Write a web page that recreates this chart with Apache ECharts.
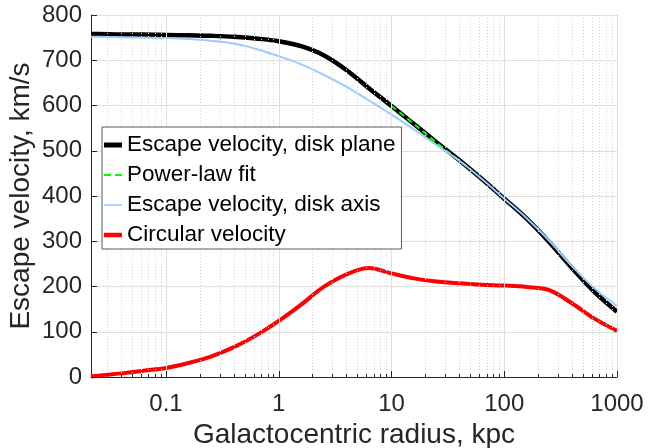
<!DOCTYPE html>
<html><head><meta charset="utf-8">
<script src="https://cdn.jsdelivr.net/npm/echarts@6/dist/echarts.min.js"></script>
<style>html,body{margin:0;padding:0;background:#fff}#c{width:659px;height:448px}</style>
</head><body><div id="c"></div>
<script>
// ---- data (radius in kpc, velocity in km/s) ----
const radiusEsc = [0.0216, 0.025, 0.04, 0.063, 0.1, 0.158, 0.25, 0.4, 0.63, 1, 1.58, 2.5, 4, 6.3, 10, 15.8, 25, 40, 63, 100, 158, 251, 398, 631, 1000];
const vEscPlane = [758, 758, 757, 757, 756, 755, 754, 752, 748, 742, 731, 711, 678, 638, 599, 559, 519, 479, 438, 394, 350, 298, 241, 188, 144];
const vEscAxis  = [752, 752, 751, 750, 749, 747, 743, 737, 725, 709, 691, 668, 641, 611, 580, 547, 513, 478, 438, 394, 351, 301, 245, 196, 157];
const radiusFit = [10, 14, 20, 28, 40, 48];
const vFit      = [599, 570, 538, 508, 478, 463];
const radiusCirc = [0.0216, 0.025, 0.04, 0.063, 0.1, 0.158, 0.25, 0.4, 0.63, 1, 1.58, 2.5, 4, 6.3, 10, 15.8, 25, 40, 63, 100, 158, 251, 398, 631, 1000];
const vCirc      = [1, 3, 8, 14, 20, 31, 45, 66, 92, 124, 160, 199, 227, 241, 229, 218, 211, 207, 204, 202, 199, 192, 163, 129, 102];
const seriesNames = ['Escape velocity, disk plane', 'Power-law fit', 'Escape velocity, disk axis', 'Circular velocity'];
const xMajorTicks = [0.1, 1, 10, 100, 1000];
const xMinorMultipliers = [2, 3, 4, 5, 6, 7, 8, 9];
const xMinorDecades = [0.01, 0.1, 1, 10, 100];
const xRange = [0.0216, 1000];
const yTicks = [0, 100, 200, 300, 400, 500, 600, 700, 800];
const xTitle = 'Galactocentric radius, kpc';
const yTitle = 'Escape velocity, km/s';

// ---- build ----
const lg = v => Math.round(Math.log10(v) * 1e9) / 1e9;
const xMin = lg(xRange[0]), xMax = lg(xRange[1]);
const majorPos = xMajorTicks.map(lg);
const minorPos = [];
xMinorDecades.forEach(d => xMinorMultipliers.forEach(m => {
  const p = lg(d * m);
  if (p >= xMin && p <= xMax) minorPos.push(p);
}));
const pairs = (rs, vs) => rs.map((r, i) => [lg(r), vs[i]]);
const FONT = '"Liberation Sans", Arial, Helvetica, sans-serif';
const AX = '#262626';

const legendIcons = [
  'path://M0,0h18v5h-18z',
  'path://M0,0h7v2h-7z M11,0h7v2h-7z',
  'path://M0,0h18v1.6h-18z',
  'path://M0,0h18v4.5h-18z'
];

const chart = echarts.init(document.getElementById('c'), null, {renderer: 'canvas'});
chart.setOption({
  animation: false,
  backgroundColor: '#ffffff',
  grid: {left: 91, right: 42, top: 15, bottom: 71, containLabel: false, outerBoundsMode: 'none'},
  xAxis: [
    {
      type: 'value', min: xMin, max: xMax, position: 'bottom',
      name: xTitle, nameLocation: 'middle', nameGap: 44, nameMoveOverlap: false,
      nameTextStyle: {fontFamily: FONT, fontSize: 28, color: AX},
      axisLine: {show: true, onZero: false, lineStyle: {color: AX, width: 1}},
      axisTick: {show: true, inside: true, length: 6, customValues: majorPos, lineStyle: {color: AX}},
      axisLabel: {show: true, customValues: majorPos, margin: 15, fontFamily: FONT, fontSize: 24, color: AX,
        formatter: v => String(+Math.pow(10, v).toPrecision(6))},
      splitLine: {show: true, lineStyle: {color: '#dfdfdf', width: 1}},
      z: 5
    },
    {
      type: 'value', min: xMin, max: xMax, position: 'bottom', offset: 0,
      axisLine: {show: false, onZero: false},
      axisTick: {show: true, inside: true, length: 3, customValues: minorPos, lineStyle: {color: AX}},
      axisLabel: {show: false},
      splitLine: {show: true, lineStyle: {color: '#d4d4d4', width: 1, type: [1, 2]}},
      z: 4
    }
  ],
  yAxis: {
    type: 'value', min: 0, max: 800, interval: 100, position: 'left',
    name: yTitle, nameLocation: 'middle', nameGap: 56, nameMoveOverlap: false,
    nameTextStyle: {fontFamily: FONT, fontSize: 28, color: AX},
    axisLine: {show: true, onZero: false, lineStyle: {color: AX, width: 1}},
    axisTick: {show: true, inside: true, length: 6, lineStyle: {color: AX}},
    axisLabel: {margin: 9, fontFamily: FONT, fontSize: 24, color: AX, customValues: yTicks},
    splitLine: {show: true, lineStyle: {color: '#dfdfdf', width: 1}}
  },
  legend: {
    orient: 'vertical', left: 102, top: 127, z: 10,
    backgroundColor: '#ffffff', borderColor: '#5a5a5a', borderWidth: 1,
    padding: [4, 6, 0, 2],
    itemWidth: 18, itemHeight: 14, itemGap: 2,
    textStyle: {fontFamily: FONT, fontSize: 22.5, color: '#000', lineHeight: 28},
    data: seriesNames.map((n, i) => ({name: n, icon: legendIcons[i], itemStyle: {borderWidth: 0}}))
  },
  series: [
    {name: seriesNames[0], type: 'line', data: pairs(radiusEsc, vEscPlane), smooth: 0.35, symbol: 'none',
     lineStyle: {color: '#000000', width: 4.5}, itemStyle: {color: '#000000'}},
    {name: seriesNames[1], type: 'line', data: pairs(radiusFit, vFit), smooth: 0.35, symbol: 'none',
     lineStyle: {color: '#00ff00', width: 2, type: [6, 4]}, itemStyle: {color: '#00ff00'}},
    {name: seriesNames[2], type: 'line', data: pairs(radiusEsc, vEscAxis), smooth: 0.35, symbol: 'none',
     lineStyle: {color: '#99ccff', width: 2}, itemStyle: {color: '#99ccff'}},
    {name: seriesNames[3], type: 'line', data: pairs(radiusCirc, vCirc), smooth: 0.35, symbol: 'none',
     lineStyle: {color: '#ff0000', width: 4}, itemStyle: {color: '#ff0000'}}
  ]
});
</script></body></html>
